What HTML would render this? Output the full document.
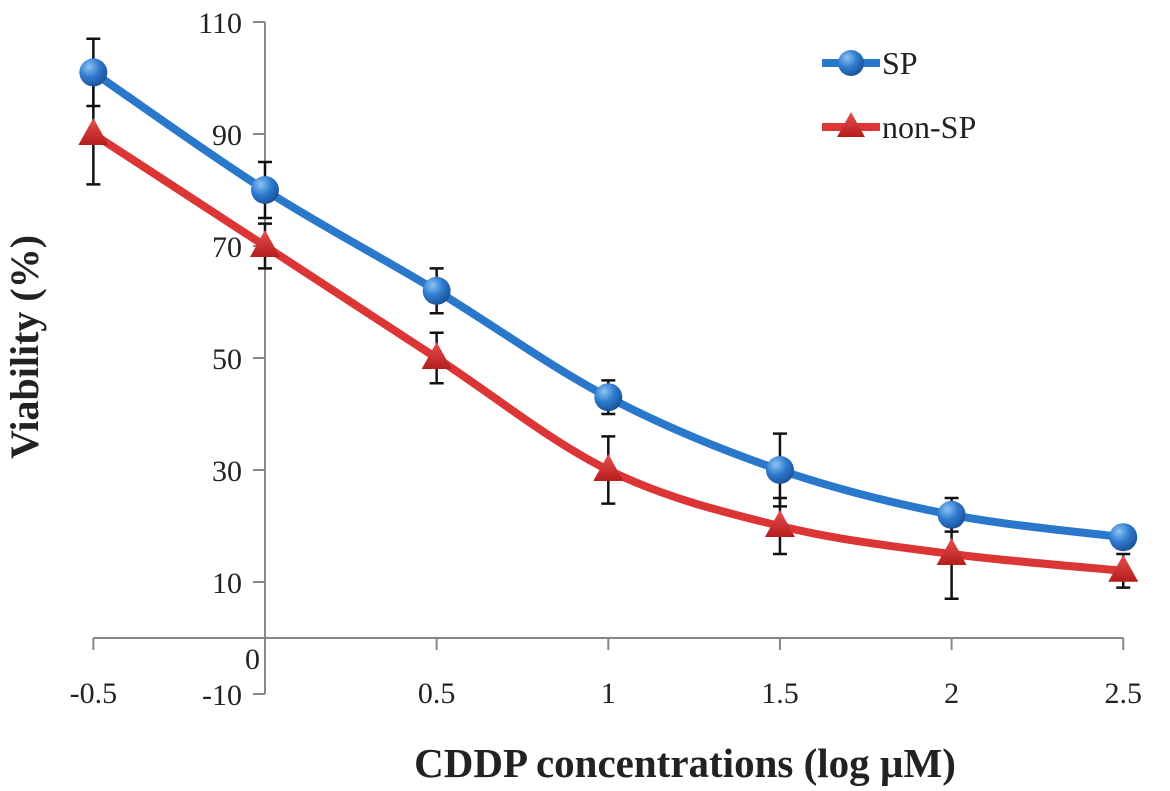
<!DOCTYPE html>
<html><head><meta charset="utf-8"><style>
body{margin:0;background:#fff}
svg{display:block;font-family:"Liberation Serif",serif}
</style></head><body>
<svg id="chart" width="1170" height="791" viewBox="0 0 1170 791">
<defs>
<radialGradient id="bg" cx="0.35" cy="0.3" r="0.75"><stop offset="0" stop-color="#8cc3f2"/><stop offset="0.5" stop-color="#2f7bd0"/><stop offset="1" stop-color="#1a4f95"/></radialGradient>
<linearGradient id="rg" x1="0" y1="0" x2="0" y2="1"><stop offset="0" stop-color="#e85050"/><stop offset="1" stop-color="#b51c1c"/></linearGradient>
</defs>
<g id="axes"></g><g id="series"></g><g id="legend"></g>
<text transform="translate(38,347) rotate(-90)" text-anchor="middle" font-size="40" font-weight="bold" fill="#222">Viability (%)</text>
<text x="685" y="777" text-anchor="middle" font-size="41" font-weight="bold" fill="#222">CDDP concentrations (log µM)</text>
</svg>
<script>
const xCats=[-0.5,0,0.5,1,1.5,2,2.5];
const xLabels=["-0.5","","0.5","1","1.5","2","2.5"];
const yTicks=[-10,0,10,30,50,70,90,110];
const spValues=[101,80,62,43,30,22,18];
const spErrors=[6,5,4,3,6.5,3,2];
const nonSpValues=[90,70,50,30,20,15,12];
const nonSpErrors=[9,4,4.5,6,5,8,3];
const NS="http://www.w3.org/2000/svg";
const X=v=>265+(v)*343.3;
const Y=v=>638-v*5.6;
function mk(t,a,p){const e=document.createElementNS(NS,t);for(const k in a)e.setAttribute(k,a[k]);(p||document.getElementById('chart')).appendChild(e);return e;}
const ax=document.getElementById('axes');
const yaxis=mk('line',{x1:265,y1:Y(110),x2:265,y2:Y(-10),stroke:'#888','stroke-width':2},ax);


const xaxis=mk('line',{x1:X(-0.5),y1:638,x2:X(2.5),y2:638,stroke:'#888','stroke-width':2},ax);


yTicks.forEach(v=>{
  mk('line',{x1:253,y1:Y(v),x2:265,y2:Y(v),stroke:'#888','stroke-width':2},ax);
  const t=mk('text',{x:v===0?260:242,y:Y(v)+(v===0?31:11),'text-anchor':'end','font-size':30,fill:'#222'},ax);
  t.textContent=String(v);
  
  
});
xCats.forEach((c,i)=>{
  mk('line',{x1:X(c),y1:638,x2:X(c),y2:650,stroke:'#888','stroke-width':2},ax);
  const t=mk('text',{x:X(c),y:703,'text-anchor':'middle','font-size':30,fill:'#222'},ax);
  t.textContent=xLabels[i];
  
  
});
function smooth(pts){let d=`M${pts[0][0]},${pts[0][1]}`;for(let i=0;i<pts.length-1;i++){const p0=pts[Math.max(0,i-1)],p1=pts[i],p2=pts[i+1],p3=pts[Math.min(pts.length-1,i+2)];const c1=[p1[0]+(p2[0]-p0[0])/6,p1[1]+(p2[1]-p0[1])/6],c2=[p2[0]-(p3[0]-p1[0])/6,p2[1]-(p3[1]-p1[1])/6];d+=` C${c1[0]},${c1[1]} ${c2[0]},${c2[1]} ${p2[0]},${p2[1]}`;}return d;}
const sg=document.getElementById('series');
function series(vals,errs,color,kind,name){
  const pts=vals.map((v,i)=>[X(xCats[i]),Y(v)]);
  const p=mk('path',{d:smooth(pts),fill:'none',stroke:color,'stroke-width':8},sg);
  
  
  vals.forEach((v,i)=>{
    const x=X(xCats[i]),t=Y(v+errs[i]),b=Y(v-errs[i]);
    const e=mk('path',{d:`M${x},${t}V${b}M${x-7},${t}H${x+7}M${x-7},${b}H${x+7}`,stroke:'#111','stroke-width':2.5,fill:'none'},sg);
    
    
  });
  vals.forEach((v,i)=>{
    const x=X(xCats[i]),y=Y(v);let m;
    if(kind==='c')m=mk('circle',{cx:x,cy:y,r:14,fill:'url(#bg)'},sg);
    else m=mk('path',{d:`M${x},${y-16}L${x+15},${y+11}L${x-15},${y+11}Z`,fill:'url(#rg)'},sg);
    
    
  });
}
series(nonSpValues,nonSpErrors,'#dc3535','t','non-sp');
series(spValues,spErrors,'#2a78cc','c','sp');
const lg=document.getElementById('legend');
[['SP','#2a78cc','c',63],['non-SP','#dc3535','t',127]].forEach(([lab,col,k,y])=>{
  const l=mk('line',{x1:822,y1:y,x2:880,y2:y,stroke:col,'stroke-width':8},lg);
  
  
  if(k==='c')mk('circle',{cx:851,cy:y,r:13,fill:'url(#bg)'},lg);
  else mk('path',{d:`M851,${y-15}L865,${y+10}L837,${y+10}Z`,fill:'url(#rg)'},lg);
  const t=mk('text',{x:882,y:y+11,'font-size':32,fill:'#222'},lg);
  t.textContent=lab;
  
  
});
</script>
</body></html>
